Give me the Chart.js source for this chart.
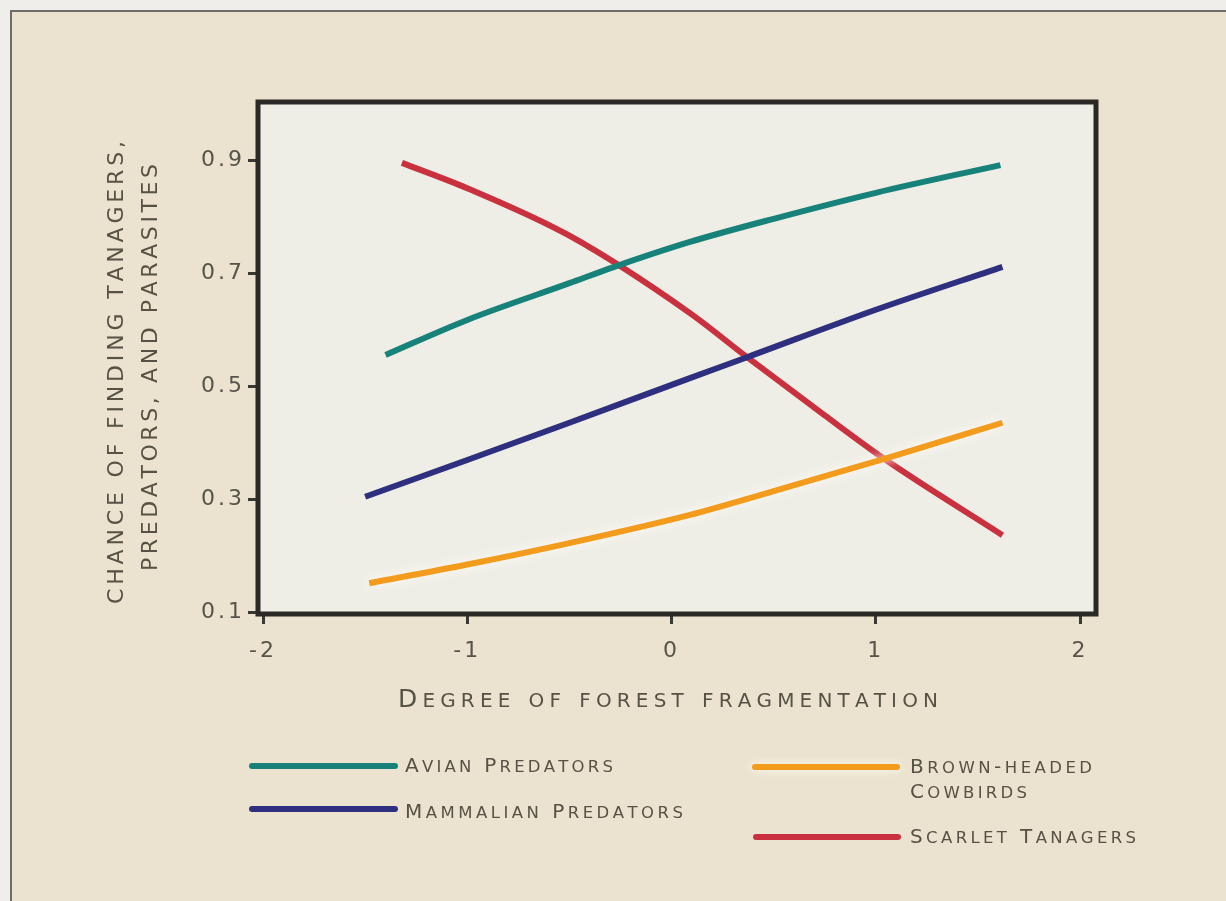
<!DOCTYPE html>
<html>
<head>
<meta charset="utf-8">
<script src="https://cdn.jsdelivr.net/npm/chart.js@4.4.0/dist/chart.umd.min.js"></script>
<style>
  html, body { margin: 0; padding: 0; background: #efeeea; }
  canvas { display: block; }
</style>
</head>
<body>
<canvas id="myChart" width="1226" height="901"></canvas>
<script>
// data
const xTicks = [-2, -1, 0, 1, 2];
const yTicks = [0.1, 0.3, 0.5, 0.7, 0.9];

const avianX = [-1.40, -1.0, -0.5, -0.28, 0.09, 0.5, 1.0, 1.61];
const avianY = [0.555, 0.617, 0.682, 0.711, 0.755, 0.796, 0.842, 0.891];

const mammalX = [-1.50, -1.0, -0.5, 0.09, 0.37, 1.0, 1.62];
const mammalY = [0.304, 0.369, 0.435, 0.514, 0.551, 0.635, 0.711];

const cowbirdX = [-1.48, -1.0, -0.5, 0.09, 0.5, 1.05, 1.62];
const cowbirdY = [0.151, 0.184, 0.222, 0.272, 0.314, 0.372, 0.435];

const tanagerX = [-1.32, -1.0, -0.5, 0.09, 0.37, 0.75, 1.05, 1.62];
const tanagerY = [0.895, 0.850, 0.766, 0.629, 0.551, 0.448, 0.369, 0.236];

const seriesNames = ['Avian Predators', 'Mammalian Predators', 'Brown-headed Cowbirds', 'Scarlet Tanagers'];
const seriesColors = ['#178279', '#2e2f7e', '#f29b1c', '#c9313f'];
const legendLines = [['Avian Predators'], ['Mammalian Predators'], ['Brown-headed', 'Cowbirds'], ['Scarlet Tanagers']];

const xTitle = 'Degree of forest fragmentation';
const yTitle = ['CHANCE OF FINDING TANAGERS,', 'PREDATORS, AND PARASITES'];

const FONT = '"DejaVu Sans", sans-serif';
const TEXT = '#575246';

function pts(xs, ys) {
  return xs.map((x, i) => ({ x: x, y: ys[i] }));
}

// draws text in small caps: capitals big, lower case letters as small capitals,
// spaced out to fill the given width
function smallCaps(ctx, str, x, y, big, small, width) {
  const parts = [...str].map(ch => {
    const low = ch !== ch.toUpperCase();
    return { ch: ch.toUpperCase(), size: low ? small : big };
  });
  let w = 0;
  parts.forEach(p => {
    ctx.font = p.size + 'px ' + FONT;
    p.w = ctx.measureText(p.ch).width;
    w += p.w;
  });
  const gap = width ? (width - w) / (parts.length - 1) : 2;
  let cx = x;
  parts.forEach(p => {
    ctx.font = p.size + 'px ' + FONT;
    ctx.fillText(p.ch, cx, y);
    cx += p.w + gap;
  });
}

const data = {
  datasets: [
    { label: seriesNames[0], data: pts(avianX, avianY), borderColor: seriesColors[0] },
    { label: seriesNames[1], data: pts(mammalX, mammalY), borderColor: seriesColors[1] },
    { label: seriesNames[2], data: pts(cowbirdX, cowbirdY), borderColor: seriesColors[2] },
    { label: seriesNames[3], data: pts(tanagerX, tanagerY), borderColor: seriesColors[3] }
  ].map(d => Object.assign(d, {
    showLine: true,
    borderWidth: 6,
    pointRadius: 0,
    cubicInterpolationMode: 'monotone',
    borderCapStyle: 'butt'
  }))
};

const frame = {
  id: 'frame',
  beforeDraw(chart) {
    const ctx = chart.ctx, a = chart.chartArea;
    ctx.save();
    ctx.fillStyle = '#efeeea';
    ctx.fillRect(0, 0, chart.width, chart.height);
    ctx.fillStyle = '#ebe3cf';
    ctx.fillRect(11, 11, chart.width, chart.height);
    ctx.strokeStyle = '#6e6c66';
    ctx.lineWidth = 2;
    ctx.strokeRect(11, 11, chart.width + 20, chart.height + 20);
    ctx.fillStyle = '#efeee6';
    ctx.fillRect(a.left, a.top, a.right - a.left, a.bottom - a.top);
    ctx.restore();
    // wide spacing for the tick labels
    ctx.letterSpacing = '3px';
  },
  beforeDatasetDraw(chart, args) {
    if (args.index === 2) {
      chart.ctx.save();
      chart.ctx.shadowColor = 'rgba(255,252,245,1)';
      chart.ctx.shadowBlur = 10;
    }
  },
  afterDatasetDraw(chart, args) {
    if (args.index === 2) chart.ctx.restore();
  },
  afterDraw(chart) {
    const ctx = chart.ctx, a = chart.chartArea;
    ctx.save();
    ctx.letterSpacing = '0px';
    // plot box
    ctx.strokeStyle = '#2b2925';
    ctx.lineWidth = 5;
    ctx.strokeRect(a.left, a.top, a.right - a.left, a.bottom - a.top);

    ctx.fillStyle = TEXT;
    ctx.textBaseline = 'alphabetic';
    ctx.textAlign = 'left';

    // x title
    smallCaps(ctx, xTitle, 398, 707, 25, 20, 540);

    // y title, two lines rotated
    ctx.save();
    ctx.translate(115, 373);
    ctx.rotate(-Math.PI / 2);
    smallCaps(ctx, yTitle[0], -231, 8, 22, 22, 463);
    ctx.restore();
    ctx.save();
    ctx.translate(149, 368);
    ctx.rotate(-Math.PI / 2);
    smallCaps(ctx, yTitle[1], -203, 8, 22, 22, 407);
    ctx.restore();

    // legend
    const slots = [
      { x1: 252, x2: 395, ly: 766, tx: 405, ty: [772], tw: [208] },
      { x1: 252, x2: 395, ly: 809, tx: 405, ty: [818], tw: [278] },
      { x1: 755, x2: 897, ly: 767, tx: 910, ty: [773], tw: [182] },
      { x1: 756, x2: 898, ly: 837, tx: 910, ty: [843], tw: [226] }
    ];
    slots[2].ty.push(798);
    slots[2].tw.push(117);
    chart.data.datasets.forEach((ds, i) => {
      const s = slots[i];
      ctx.save();
      if (i === 2) {
        ctx.shadowColor = 'rgba(255,252,245,1)';
        ctx.shadowBlur = 10;
      }
      ctx.strokeStyle = ds.borderColor;
      ctx.lineWidth = 6;
      ctx.lineCap = 'round';
      ctx.beginPath();
      ctx.moveTo(s.x1, s.ly);
      ctx.lineTo(s.x2, s.ly);
      ctx.stroke();
      ctx.restore();
      legendLines[i].forEach((line, k) => {
        smallCaps(ctx, line, s.tx, s.ty[k], 20, 16.5, s.tw[k]);
      });
    });
    ctx.restore();
  }
};

const config = {
  type: 'scatter',
  data: data,
  options: {
    responsive: false,
    animation: false,
    devicePixelRatio: 1,
    layout: { padding: { left: 0, top: 102, right: 130, bottom: 0 } },
    plugins: {
      legend: { display: false },
      tooltip: { enabled: false }
    },
    scales: {
      x: {
        type: 'linear',
        min: -2.0245,
        max: 2.078,
        afterBuildTicks: s => { s.ticks = xTicks.map(v => ({ value: v })); },
        afterFit: s => { s.height = 287; },
        border: { display: false },
        grid: { drawOnChartArea: false, tickLength: 10, lineWidth: 3, color: '#3a3833' },
        ticks: {
          color: '#57544b',
          font: { family: FONT, size: 22 },
          padding: 14,
          maxRotation: 0,
          callback: v => String(v)
        }
      },
      y: {
        type: 'linear',
        min: 0.0965,
        max: 1.0027,
        afterBuildTicks: s => { s.ticks = yTicks.map(v => ({ value: v })); },
        afterFit: s => { s.width = 258; },
        border: { display: false },
        grid: { drawOnChartArea: false, tickLength: 10, lineWidth: 3, color: '#3a3833' },
        ticks: {
          color: '#57544b',
          font: { family: FONT, size: 22 },
          padding: 3,
          callback: v => v.toFixed(1)
        }
      }
    }
  },
  plugins: [frame]
};

const myChart = new Chart(document.getElementById('myChart'), config);
</script>
</body>
</html>
